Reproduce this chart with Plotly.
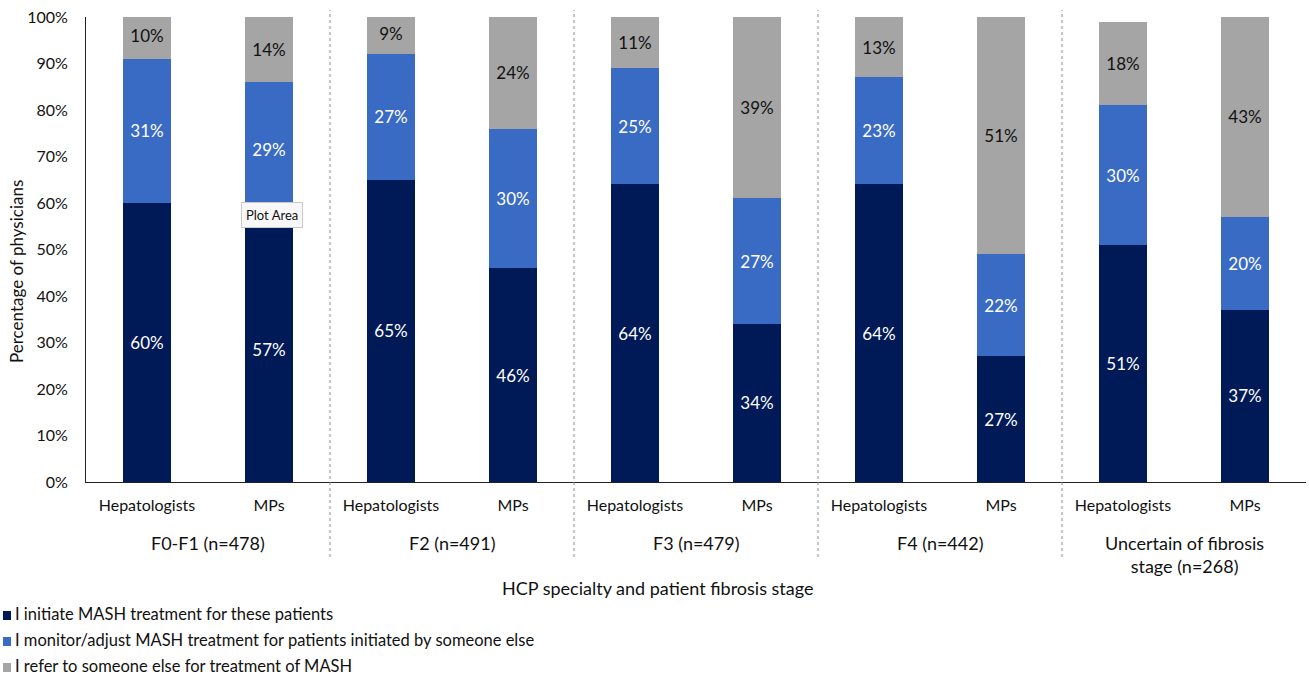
import plotly.graph_objects as go

# Survey results: share of physicians by role in MASH treatment
specialties = ["Hepatologists", "MPs"] * 5
groups = ["F0-F1 (n=478)", "F2 (n=491)", "F3 (n=479)", "F4 (n=442)",
          "Uncertain of fibrosis<br>stage (n=268)"]
series_names = [
    "I initiate MASH treatment for these patients",
    "I monitor/adjust MASH treatment for patients initiated by someone else",
    "I refer to someone else for treatment of MASH",
]
initiate = [60, 57, 65, 46, 64, 34, 64, 27, 51, 37]
monitor = [31, 29, 27, 30, 25, 27, 23, 22, 30, 20]
refer = [10, 14, 9, 24, 11, 39, 13, 51, 18, 43]
y_ticks = [0, 10, 20, 30, 40, 50, 60, 70, 80, 90, 100]
y_tick_labels = [f"{v}%" for v in y_ticks]

colors = ["#001A57", "#3A6BC4", "#A5A5A5"]
text_colors = ["white", "white", "#111111"]
FONT = "Lato, 'Open Sans', sans-serif"

W, H = 1309, 677
ML, MR, MT, MB = 86, 3, 17, 195
PW, PH = W - ML - MR, H - MT - MB


def px_x(px):
    return (px - ML) / PW


def px_y(py):
    return (H - MB - py) / PH


xs = list(range(len(specialties)))
fig = go.Figure()
for name, vals, c, tc in zip(series_names, [initiate, monitor, refer], colors, text_colors):
    fig.add_trace(go.Bar(
        x=xs, y=vals, name=name, marker=dict(color=c, line=dict(width=0)),
        width=0.39, text=[f"{v}%" for v in vals], textposition="inside",
        insidetextanchor="middle", textangle=0,
        textfont=dict(color=tc, size=17, family=FONT), showlegend=False,
    ))

shapes = []
# dotted separators between fibrosis-stage groups
for b in [1.5, 3.5, 5.5, 7.5]:
    shapes.append(dict(type="line", xref="x", yref="paper", x0=b, x1=b,
                       y0=px_y(557), y1=px_y(10),
                       line=dict(color="#8C8C8C", width=1, dash="dot")))

annotations = []
for i, g in enumerate(groups):
    multi = "<br>" in g
    annotations.append(dict(
        x=2 * i + 0.5, xref="x", y=px_y(554 if multi else 543), yref="paper",
        text=g, showarrow=False, font=dict(size=18, family=FONT, color="#111111"),
        xanchor="center", yanchor="middle",
    ))
annotations.append(dict(
    x=px_x(657), xref="paper", y=px_y(588), yref="paper",
    text="HCP specialty and patient fibrosis stage", showarrow=False,
    font=dict(size=18, family=FONT, color="#111111"), xanchor="center", yanchor="middle",
))
annotations.append(dict(
    x=px_x(16), xref="paper", y=px_y(272), yref="paper",
    text="Percentage of physicians", textangle=-90, showarrow=False,
    font=dict(size=17, family=FONT, color="#111111"), xanchor="center", yanchor="middle",
))
# hover hint box
annotations.append(dict(
    x=px_x(272), xref="paper", y=px_y(215), yref="paper",
    text="Plot Area", showarrow=False, bgcolor="#F7F7F7", bordercolor="#C9C9C9",
    borderwidth=1, borderpad=4, font=dict(size=13, family=FONT, color="#111111"),
    xanchor="center", yanchor="middle",
))

# legend drawn beneath the axis title
for k, (name, c) in enumerate(zip(series_names, colors)):
    yc = 615 + 26 * k
    shapes.append(dict(type="rect", xref="paper", yref="paper",
                       x0=px_x(3), x1=px_x(11), y0=px_y(yc + 5), y1=px_y(yc - 4),
                       fillcolor=c, line=dict(width=0)))
    annotations.append(dict(
        x=px_x(13), xref="paper", y=px_y(yc - 1), yref="paper", text=name,
        showarrow=False, font=dict(size=16.5, family=FONT, color="#111111"),
        xanchor="left", yanchor="middle",
    ))

fig.update_layout(
    barmode="stack",
    width=W, height=H,
    margin=dict(l=ML, r=MR, t=MT, b=MB),
    paper_bgcolor="white", plot_bgcolor="white",
    font=dict(family=FONT, color="#111111"),
    shapes=shapes, annotations=annotations,
    uniformtext=dict(mode=False),
)
fig.update_xaxes(
    range=[-0.5, 9.5], tickvals=xs, ticktext=specialties,
    showline=True, linecolor="#222222", linewidth=1, showgrid=False, ticks="",
    tickfont=dict(size=16, family=FONT, color="#111111"), ticklabelstandoff=9,
    zeroline=False,
)
fig.update_yaxes(
    range=[0, 100], tickvals=y_ticks, ticktext=y_tick_labels,
    showline=True, linecolor="#222222", linewidth=1, showgrid=False, ticks="",
    tickfont=dict(size=16, family=FONT, color="#111111"), ticklabelstandoff=14,
    zeroline=False,
)

fig.write_html("out.html")
